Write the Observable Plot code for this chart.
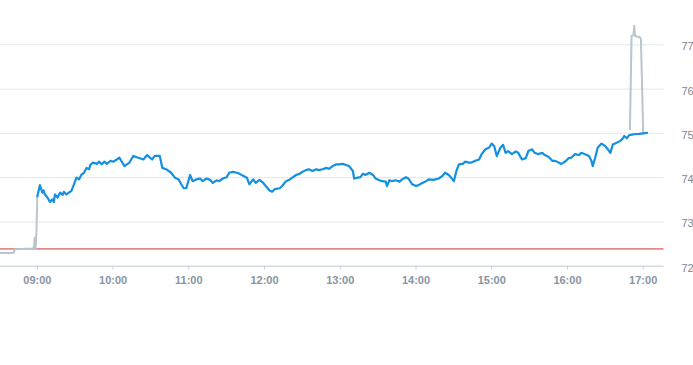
<!DOCTYPE html>
<html>
<head>
<meta charset="utf-8">
<script src="https://cdn.jsdelivr.net/npm/d3@7"></script>
<script src="https://cdn.jsdelivr.net/npm/@observablehq/plot@0.6"></script>
<style>
  html, body { margin: 0; padding: 0; background: #fff; }
  #chart svg { display: block; }
</style>
</head>
<body>
<div id="chart"></div>
<script>
// Regular session (blue)
const sessionTimes = ["09:00","09:02","09:04","09:05","09:06","09:08","09:10","09:12","09:13","09:14","09:16","09:18","09:20","09:21","09:23","09:25","09:27","09:29","09:31","09:33","09:35","09:37","09:39","09:41","09:42","09:44","09:47","09:49","09:51","09:53","09:55","09:58","10:00","10:03","10:05","10:09","10:13","10:16","10:20","10:24","10:27","10:31","10:33","10:37","10:39","10:42","10:46","10:49","10:52","10:54","10:56","10:58","11:01","11:03","11:06","11:09","11:11","11:14","11:17","11:19","11:22","11:24","11:27","11:30","11:32","11:35","11:38","11:40","11:43","11:46","11:48","11:51","11:53","11:56","11:59","12:01","12:04","12:06","12:08","12:12","12:14","12:17","12:20","12:22","12:25","12:28","12:30","12:33","12:35","12:38","12:41","12:43","12:46","12:49","12:51","12:54","12:57","12:59","13:02","13:04","13:07","13:10","13:11","13:14","13:16","13:18","13:20","13:23","13:26","13:28","13:31","13:33","13:36","13:37","13:39","13:41","13:44","13:47","13:49","13:52","13:54","13:57","14:00","14:02","14:05","14:08","14:10","14:14","14:18","14:21","14:23","14:26","14:29","14:30","14:32","14:34","14:37","14:39","14:42","14:44","14:47","14:50","14:52","14:55","14:58","15:00","15:02","15:04","15:07","15:09","15:11","15:13","15:16","15:19","15:21","15:24","15:27","15:29","15:32","15:34","15:37","15:40","15:42","15:45","15:48","15:50","15:53","15:55","15:58","16:01","16:03","16:06","16:09","16:11","16:14","16:17","16:19","16:20","16:22","16:24","16:27","16:30","16:32","16:34","16:36","16:39","16:42","16:44","16:45","16:47","16:49","16:53","16:57","17:03"];
const sessionValues = [73.58,73.83,73.66,73.71,73.62,73.55,73.45,73.51,73.45,73.62,73.55,73.66,73.61,73.68,73.62,73.66,73.70,73.85,74.00,73.96,74.07,74.11,74.22,74.19,74.29,74.34,74.31,74.36,74.30,74.36,74.31,74.38,74.36,74.41,74.45,74.26,74.34,74.49,74.45,74.41,74.51,74.41,74.49,74.49,74.22,74.19,74.11,74.00,73.96,73.85,73.76,73.76,74.06,73.92,73.96,73.98,73.92,73.98,73.95,73.88,73.94,73.92,73.98,74.01,74.11,74.13,74.11,74.09,74.04,74.00,73.85,73.96,73.88,73.95,73.88,73.81,73.71,73.68,73.74,73.76,73.81,73.92,73.96,74.00,74.06,74.09,74.13,74.17,74.19,74.15,74.19,74.17,74.19,74.22,74.20,74.26,74.30,74.30,74.31,74.29,74.26,74.15,73.98,74.00,74.01,74.09,74.06,74.11,74.06,73.98,73.94,73.92,73.91,73.81,73.94,73.92,73.94,73.91,73.96,74.01,73.98,73.85,73.81,73.83,73.88,73.92,73.96,73.95,73.98,74.04,74.11,74.06,73.96,73.92,74.15,74.30,74.31,74.36,74.34,74.34,74.38,74.41,74.53,74.64,74.68,74.77,74.71,74.49,74.68,74.74,74.56,74.60,74.53,74.59,74.56,74.41,74.44,74.60,74.64,74.56,74.53,74.56,74.51,74.47,74.38,74.38,74.34,74.31,74.36,74.44,74.45,74.53,74.51,74.56,74.53,74.49,74.38,74.26,74.45,74.68,74.77,74.71,74.64,74.56,74.75,74.79,74.83,74.89,74.94,74.89,74.96,74.98,74.99,75.01];

// Pre-market (grey)
const preTimes = ["08:30:48","08:41:00","08:42:00","08:56:00","08:57:10","08:57:52","08:58:40","08:59:13","09:00:00"];
const preValues = [72.30,72.30,72.38,72.40,72.41,72.64,72.40,72.72,73.58];

// After-hours (grey)
const postTimes = ["16:49:30","16:50:48","16:52:20","16:52:54","16:53:30","16:57:24","16:58:12","17:00:00"];
const postValues = [75.09,77.20,77.22,77.43,77.20,77.17,77.13,75.02];

const previousClose = 72.39;
const yTicks = [72, 73, 74, 75, 76, 77];
const yTickLabels = ["72", "73", "74", "75", "76", "77"];
const xTickTimes = ["09:00","10:00","11:00","12:00","13:00","14:00","15:00","16:00","17:00"];
const xDomainTimes = ["08:30:48", "17:16:30"];

const toDate = (t) => {
  const p = t.split(":").map(Number);
  return new Date(Date.UTC(2024, 0, 2, p[0], p[1], p[2] || 0));
};
const mk = (ts, vs) => ts.map((t, i) => ({ time: toDate(t), value: vs[i] }));
const session = mk(sessionTimes, sessionValues);
const pre = mk(preTimes, preValues);
const post = mk(postTimes, postValues);

const chart = Plot.plot({
  width: 693,
  height: 365,
  marginLeft: 0,
  marginRight: 29.5,
  marginTop: 0,
  marginBottom: 99.3,
  style: { fontFamily: "'Liberation Sans', Arial, sans-serif", background: "#fff" },
  x: {
    type: "utc",
    domain: xDomainTimes.map(toDate),
    ticks: xTickTimes.map(toDate),
    tickFormat: d3.utcFormat("%H:%M"),
    label: null
  },
  y: {
    domain: [72, 78],
    ticks: yTicks,
    label: null
  },
  marks: [
    Plot.gridY(yTicks, { stroke: "#e3e7eb", strokeOpacity: 1 }),
    Plot.ruleY([72], { stroke: "#ccd4dc", strokeWidth: 1 }),
    Plot.axisX({
      ticks: xTickTimes.map(toDate),
      tickFormat: d3.utcFormat("%H:%M"),
      tickSize: 4,
      tickPadding: 6,
      stroke: "#ccd4dc",
      fill: "#8795a3",
      fontSize: 11,
      fontWeight: "bold",
      label: null
    }),
    Plot.axisY({
      anchor: "right",
      ticks: yTicks,
      tickFormat: (d) => yTickLabels[yTicks.indexOf(d)],
      tickSize: 0,
      tickPadding: 17.5,
      textAnchor: "start",
      fill: "#7f8790",
      fontSize: 11,
      dy: 2,
      label: null
    }),
    Plot.ruleY([previousClose], { stroke: "#d0342c", strokeWidth: 1 }),
    Plot.line(pre, { x: "time", y: "value", stroke: "#b9c5cf", strokeWidth: 2 }),
    Plot.line(post, { x: "time", y: "value", stroke: "#b9c5cf", strokeWidth: 2 }),
    Plot.line(session, { x: "time", y: "value", stroke: "#1490e0", strokeWidth: 2.2 })
  ]
});
document.getElementById("chart").appendChild(chart);
</script>
</body>
</html>
